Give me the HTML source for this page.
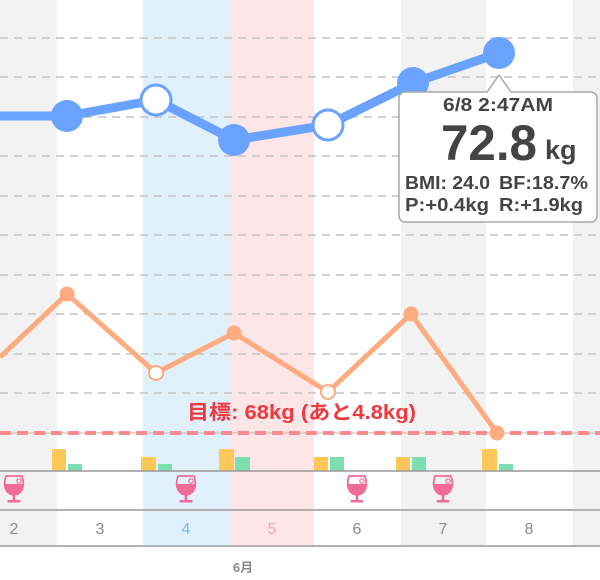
<!DOCTYPE html>
<html><head><meta charset="utf-8"><style>
html,body{margin:0;padding:0;background:#fff}
svg{display:block}
text{font-family:"Liberation Sans","Noto Sans CJK JP",sans-serif}
</style></head><body>
<svg width="600" height="580" viewBox="0 0 600 580" xmlns="http://www.w3.org/2000/svg">
<rect x="0" y="0" width="600" height="580" fill="#fff"/>
<rect x="0" y="0" width="57" height="546" fill="#f2f2f2"/>
<rect x="143" y="0" width="86" height="546" fill="#e1f1fc"/>
<rect x="229" y="0" width="85" height="546" fill="#fde6e7"/>
<rect x="401" y="0" width="85" height="546" fill="#f2f2f2"/>
<rect x="573" y="0" width="27" height="546" fill="#f2f2f2"/>
<g stroke="#c4c4c4" stroke-width="1.5" stroke-dasharray="8,6">
<line x1="0" y1="38" x2="600" y2="38"/>
<line x1="0" y1="77" x2="600" y2="77"/>
<line x1="0" y1="117" x2="600" y2="117"/>
<line x1="0" y1="156" x2="600" y2="156"/>
<line x1="0" y1="196" x2="600" y2="196"/>
<line x1="0" y1="235" x2="600" y2="235"/>
<line x1="0" y1="275" x2="600" y2="275"/>
<line x1="0" y1="314" x2="600" y2="314"/>
<line x1="0" y1="354" x2="600" y2="354"/>
<line x1="0" y1="393" x2="600" y2="393"/>
</g>
<line x1="0" y1="433" x2="600" y2="433" stroke="#bbb" stroke-width="1"/>
<line x1="0" y1="433" x2="600" y2="433" stroke="#ff8a8e" stroke-width="4" stroke-dasharray="11,6"/>
<text x="187" y="419" textLength="229" lengthAdjust="spacingAndGlyphs" font-size="20" font-weight="bold" fill="#f0383e">目標: 68kg (あと4.8kg)</text>
<polyline points="0,357 67,294 156,373 234,333 328,392 411,314 497,433" fill="none" stroke="#ffab80" stroke-width="5" stroke-linejoin="round"/>
<circle cx="67" cy="294" r="7.5" fill="#ffab80"/>
<circle cx="156" cy="373" r="7" fill="#fff" stroke="#ffab80" stroke-width="2"/>
<circle cx="234" cy="333" r="7.5" fill="#ffab80"/>
<circle cx="328" cy="392" r="7" fill="#fff" stroke="#ffab80" stroke-width="2"/>
<circle cx="411" cy="314" r="7.5" fill="#ffab80"/>
<circle cx="497" cy="433" r="7.5" fill="#ffab80"/>
<polyline points="0,116 67,116 156,100 234,140 328,125 413,83 499,53" fill="none" stroke="#6aa2ff" stroke-width="9" stroke-linejoin="round"/>
<circle cx="67" cy="116" r="16" fill="#6aa2ff"/>
<circle cx="156" cy="100" r="15" fill="#fff" stroke="#6aa2ff" stroke-width="3"/>
<circle cx="234" cy="140" r="16" fill="#6aa2ff"/>
<circle cx="328" cy="125" r="15" fill="#fff" stroke="#6aa2ff" stroke-width="3"/>
<circle cx="413" cy="83" r="16" fill="#6aa2ff"/>
<circle cx="499" cy="53" r="16" fill="#6aa2ff"/>
<g fill="#ffc65a">
<rect x="52" y="449" width="14" height="22"/>
<rect x="141" y="457" width="15" height="14"/>
<rect x="219" y="449" width="15" height="22"/>
<rect x="314" y="457" width="14" height="14"/>
<rect x="396" y="457" width="14" height="14"/>
<rect x="482" y="449" width="15" height="22"/>
</g>
<g fill="#7ddfb0">
<rect x="68" y="464" width="14" height="7"/>
<rect x="158" y="464" width="14" height="7"/>
<rect x="235" y="457" width="15" height="14"/>
<rect x="330" y="457" width="14" height="14"/>
<rect x="412" y="457" width="14" height="14"/>
<rect x="499" y="464" width="14" height="7"/>
</g>
<line x1="0" y1="471" x2="600" y2="471" stroke="#999" stroke-width="1.5"/>
<line x1="0" y1="510" x2="600" y2="510" stroke="#999" stroke-width="1.5"/>
<line x1="0" y1="546" x2="600" y2="546" stroke="#999" stroke-width="1.5"/>
<rect x="0" y="547" width="600" height="33" fill="#fff"/>
<defs>
<g id="gl">
<path d="M-8,-15 C-11,-6 -9,3 0,4 C9,3 11,-6 8,-15 Z" fill="none" stroke="#f06a9a" stroke-width="1.8"/>
<path d="M-10,-7 C-10,0 -6,3.5 0,4 C6,3.5 10,0 10,-7 Z" fill="#f06a9a"/>
<circle cx="5" cy="-10" r="2.2" fill="none" stroke="#f06a9a" stroke-width="1.2"/>
<rect x="-1.3" y="4" width="2.6" height="6" fill="#f06a9a"/>
<rect x="-6.5" y="9" width="13" height="2.5" rx="1" fill="#f06a9a"/>
</g>
</defs>
<use href="#gl" x="14" y="491"/>
<use href="#gl" x="186" y="491"/>
<use href="#gl" x="357" y="491"/>
<use href="#gl" x="443" y="491"/>
<g font-size="16" text-anchor="middle" fill="#8a8a8a">
<text x="14" y="534">2</text>
<text x="100" y="534">3</text>
<text x="186" y="534" fill="#7ab8f0">4</text>
<text x="272" y="534" fill="#f8a3a6">5</text>
<text x="357" y="534">6</text>
<text x="443" y="534">7</text>
<text x="529" y="534">8</text>
</g>
<text x="243" y="572" font-size="13" text-anchor="middle" fill="#8a8a8a" font-weight="bold">6月</text>
<path d="M406,92 L487,92 L499,75 L511,92 L590,92 Q597,92 597,99 L597,215 Q597,222 590,222 L406,222 Q399,222 399,215 L399,99 Q399,92 406,92 Z" fill="#fff" stroke="#a8a8a8" stroke-width="1.5"/>
<text x="443" y="111" textLength="110" lengthAdjust="spacingAndGlyphs" font-size="18" font-weight="bold" fill="#444">6/8 2:47AM</text>
<text x="441" y="160" textLength="96" lengthAdjust="spacingAndGlyphs" font-size="50" font-weight="bold" fill="#444">72.8</text>
<text x="545" y="159" font-size="27" font-weight="bold" fill="#444">kg</text>
<text x="405" y="189" textLength="85" lengthAdjust="spacingAndGlyphs" font-size="18" font-weight="bold" fill="#444">BMI: 24.0</text>
<text x="499" y="189" textLength="89" lengthAdjust="spacingAndGlyphs" font-size="18" font-weight="bold" fill="#444">BF:18.7%</text>
<text x="405" y="211" textLength="84" lengthAdjust="spacingAndGlyphs" font-size="18" font-weight="bold" fill="#444">P:+0.4kg</text>
<text x="499" y="211" textLength="84" lengthAdjust="spacingAndGlyphs" font-size="18" font-weight="bold" fill="#444">R:+1.9kg</text>
</svg>
</body></html>
